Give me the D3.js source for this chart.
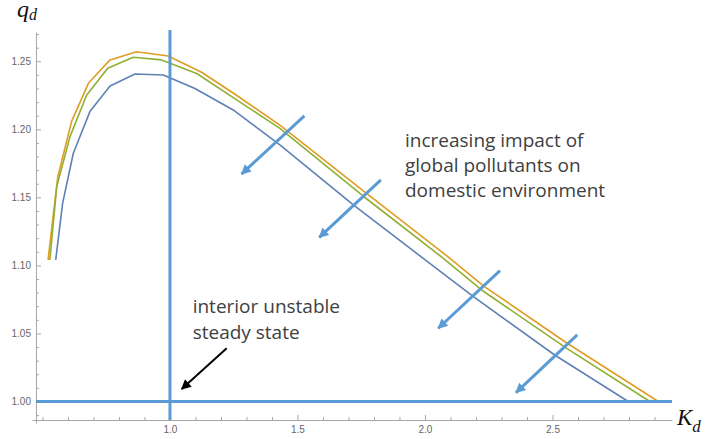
<!DOCTYPE html>
<html>
<head>
<meta charset="utf-8">
<script src="https://cdn.jsdelivr.net/npm/d3@7"></script>
<style>
  body { margin: 0; background: #fff; }
  svg { display: block; }
  .tick text { font-family: "Liberation Sans", Arial, sans-serif; font-size: 10px; fill: #666; }
  .axis path, .axis line { stroke: #a6a6a6; }
  .note { font-family: "Open Sans", sans-serif; font-size: 19px; fill: #404040; }
  .axlab { font-family: "Liberation Serif", serif; font-style: italic; fill: #111; }
</style>
</head>
<body>
<script>
// q_d against K_d, three pollutant-impact levels
var curveLowImpact = [ // orange
  [0.522, 1.104], [0.560, 1.165], [0.614, 1.2056], [0.680, 1.2338], [0.765, 1.251],
  [0.869, 1.257], [0.993, 1.2539], [1.124, 1.2419], [1.248, 1.2267], [1.431, 1.2031],
  [1.757, 1.155], [2.098, 1.1052], [2.229, 1.085], [2.556, 1.043], [2.915, 1.000]
];
var curveMidImpact = [ // green
  [0.529, 1.104], [0.556, 1.158], [0.608, 1.1946], [0.673, 1.225], [0.756, 1.2448],
  [0.856, 1.2529], [0.967, 1.251], [1.105, 1.241], [1.275, 1.220], [1.431, 1.2007],
  [1.757, 1.151], [2.072, 1.1052], [2.229, 1.081], [2.556, 1.039], [2.882, 1.000]
];
var curveHighImpact = [ // blue
  [0.552, 1.104], [0.579, 1.1456], [0.621, 1.1824], [0.686, 1.213], [0.765, 1.2318],
  [0.863, 1.2406], [0.974, 1.2399], [1.098, 1.230], [1.248, 1.2142], [1.431, 1.1885],
  [1.719, 1.1444], [1.993, 1.1052], [2.190, 1.077], [2.510, 1.034], [2.797, 1.000]
];
var curveColors = ["#e19c24", "#8fb032", "#5e81b5"];

// ticks
var xMajorTicks = [1.0, 1.5, 2.0, 2.5];
var xMinorTicks = [0.5, 0.6, 0.7, 0.8, 0.9, 1.1, 1.2, 1.3, 1.4, 1.6, 1.7, 1.8, 1.9,
                   2.1, 2.2, 2.3, 2.4, 2.6, 2.7, 2.8, 2.9];
var yMajorTicks = [1.00, 1.05, 1.10, 1.15, 1.20, 1.25];
var yMinorTicks = [0.99, 1.01, 1.02, 1.03, 1.04, 1.06, 1.07, 1.08, 1.09, 1.11, 1.12, 1.13,
                   1.14, 1.16, 1.17, 1.18, 1.19, 1.21, 1.22, 1.23, 1.24, 1.26, 1.27];

// annotations, in data units
var steadyStateK = 1.0, steadyStateQ = 1.0;
var impactArrows = [ // [fromK, fromQ, toK, toQ]
  [1.527, 1.2098, 1.281, 1.1672],
  [1.827, 1.1628, 1.5855, 1.1206],
  [2.294, 1.0961, 2.052, 1.0538],
  [2.597, 1.0489, 2.357, 1.0065]
];
var stateArrow = [1.2224, 1.0391, 1.0459, 1.0092];
var impactText = ["increasing impact of", "global pollutants on", "domestic environment"];
var stateText = ["interior unstable", "steady state"];

var width = 706, height = 439;
var axisOriginK = 0.4745, axisOriginQ = 0.9864;

var x = d3.scaleLinear().domain([0.459, 2.9686]).range([32, 672]);
var y = d3.scaleLinear().domain([0.9842, 1.2715]).range([423, 32]);

var svg = d3.select("body").append("svg")
    .attr("width", width)
    .attr("height", height);

var defs = svg.append("defs");
function addHead(id, color, len, wid) {
  defs.append("marker")
      .attr("id", id)
      .attr("markerUnits", "userSpaceOnUse")
      .attr("viewBox", "0 0 10 10")
      .attr("refX", 9).attr("refY", 5)
      .attr("markerWidth", len).attr("markerHeight", wid)
      .attr("orient", "auto")
    .append("path")
      .attr("d", "M0,0 L10,5 L0,10 Z")
      .attr("fill", color);
}
addHead("blueHead", "#5b9bd5", 11, 10);
addHead("blackHead", "#000", 11, 10);

// axes
var x0 = x(axisOriginK), y0 = y(axisOriginQ);

svg.append("g")
    .attr("class", "axis")
    .attr("transform", "translate(0," + y0 + ")")
    .call(d3.axisBottom(x).tickValues(xMinorTicks).tickSizeInner(-3).tickSizeOuter(0).tickFormat(""))
    .call(function(g) { g.select(".domain").remove(); });
svg.append("g")
    .attr("class", "axis")
    .attr("transform", "translate(0," + y0 + ")")
    .call(d3.axisBottom(x).tickValues(xMajorTicks).tickSizeInner(-5).tickSizeOuter(0)
          .tickPadding(6).tickFormat(d3.format(".1f")));

svg.append("g")
    .attr("class", "axis")
    .attr("transform", "translate(" + x0 + ",0)")
    .call(d3.axisLeft(y).tickValues(yMinorTicks).tickSizeInner(-3).tickSizeOuter(0).tickFormat(""))
    .call(function(g) { g.select(".domain").remove(); });
svg.append("g")
    .attr("class", "axis")
    .attr("transform", "translate(" + x0 + ",0)")
    .call(d3.axisLeft(y).tickValues(yMajorTicks).tickSizeInner(-5).tickSizeOuter(0)
          .tickPadding(5).tickFormat(d3.format(".2f")));

// curves
var line = d3.line()
    .x(function(d) { return x(d[0]); })
    .y(function(d) { return y(d[1]); });

svg.selectAll(".curve")
    .data([curveLowImpact, curveMidImpact, curveHighImpact])
  .enter().append("path")
    .attr("class", "curve")
    .attr("d", line)
    .attr("fill", "none")
    .attr("stroke", function(d, i) { return curveColors[i]; })
    .attr("stroke-width", 1.6)
    .attr("stroke-linejoin", "round");

// steady state lines
svg.append("line")
    .attr("x1", x(steadyStateK)).attr("x2", x(steadyStateK))
    .attr("y1", y(1.273)).attr("y2", y0)
    .attr("stroke", "#5b9bd5").attr("stroke-width", 3);
svg.append("line")
    .attr("x1", x0).attr("x2", x(2.9686))
    .attr("y1", y(steadyStateQ)).attr("y2", y(steadyStateQ))
    .attr("stroke", "#5b9bd5").attr("stroke-width", 3);

// arrows
svg.selectAll(".impact")
    .data(impactArrows)
  .enter().append("line")
    .attr("class", "impact")
    .attr("x1", function(d) { return x(d[0]); })
    .attr("y1", function(d) { return y(d[1]); })
    .attr("x2", function(d) { return x(d[2]); })
    .attr("y2", function(d) { return y(d[3]); })
    .attr("stroke", "#5b9bd5").attr("stroke-width", 3)
    .attr("marker-end", "url(#blueHead)");

svg.append("line")
    .attr("x1", x(stateArrow[0])).attr("y1", y(stateArrow[1]))
    .attr("x2", x(stateArrow[2])).attr("y2", y(stateArrow[3]))
    .attr("stroke", "#000").attr("stroke-width", 2)
    .attr("marker-end", "url(#blackHead)");

// texts
function block(lines, k, q, lh) {
  var t = svg.append("text").attr("class", "note");
  lines.forEach(function(s, i) {
    t.append("tspan").attr("x", x(k)).attr("y", y(q) + i * lh).text(s);
  });
}
block(impactText, 1.9216, 1.1872, 25);
block(stateText, 1.089, 1.065, 26);

// axis labels
var ql = svg.append("text").attr("class", "axlab").attr("x", 17).attr("y", 17).style("font-size", "24px");
ql.append("tspan").text("q");
ql.append("tspan").attr("dy", 3).style("font-size", "16px").text("d");

var kl = svg.append("text").attr("class", "axlab").attr("x", 677).attr("y", 425).style("font-size", "23px");
kl.append("tspan").text("K");
kl.append("tspan").attr("dy", 7).style("font-size", "17px").text("d");
</script>
</body>
</html>
